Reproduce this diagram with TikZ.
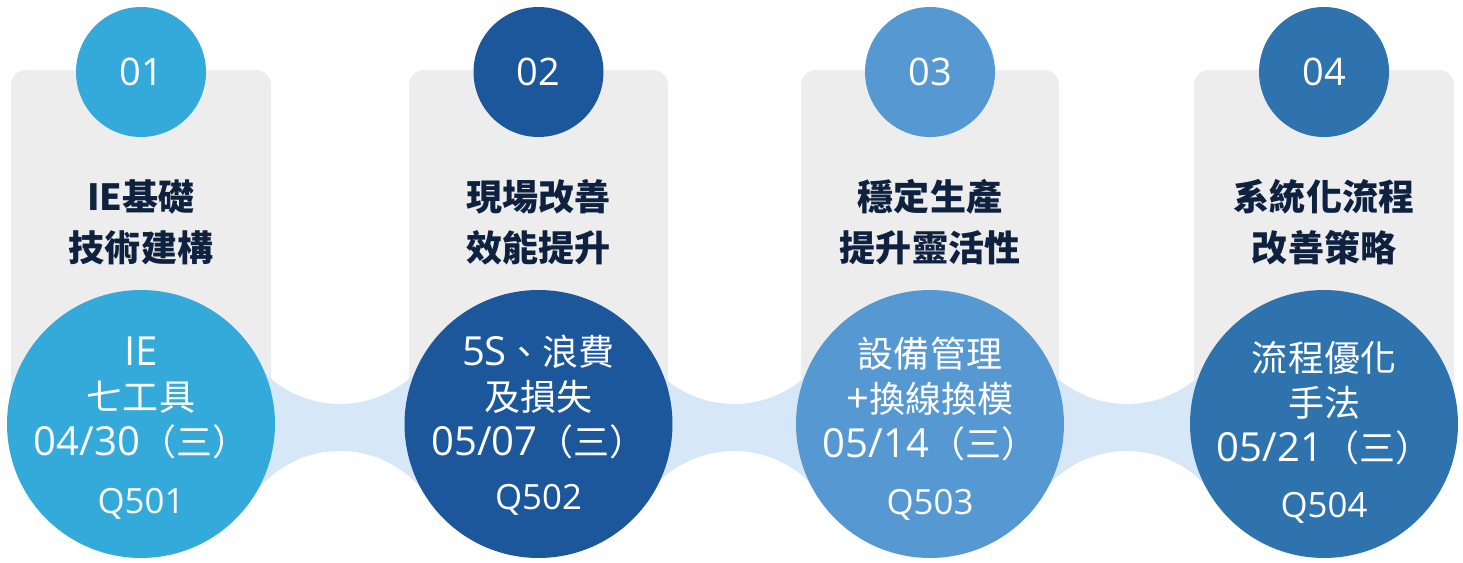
\documentclass[tikz,border=0pt]{standalone}
\usepackage{fontspec}
\setmainfont{Open Sans}
\newfontfamily\cjk{Noto Sans CJK TC}
\newcommand\lt[1]{{\rmfamily\fontsize{22.8}{25.5}\selectfont #1}}

\definecolor{cardgray}{HTML}{EDEDED}
\definecolor{bandblue}{HTML}{D6E8F8}
\definecolor{stepA}{HTML}{33AADA}
\definecolor{stepB}{HTML}{1C569B}
\definecolor{stepC}{HTML}{5598D2}
\definecolor{stepD}{HTML}{2E72AE}
\definecolor{titleink}{HTML}{0E2240}

\tikzset{
	card/.style={fill=cardgray, rounded corners=0.3cm},
	band/.style={fill=bandblue, even odd rule},
	numdot/.style={circle, minimum size=2.6cm, inner sep=0pt, text=white, font=\fontsize{21.6}{26}\selectfont},
	bigdot/.style={circle, minimum size=5.36cm, inner sep=0pt},
	heading/.style={align=center, text=titleink, font=\cjk\bfseries\fontsize{20.5}{29}\selectfont},
	inside/.style={align=center, text=white, font=\cjk\fontsize{20.5}{25.5}\selectfont},
	code/.style={text=white, font=\fontsize{19.8}{23}\selectfont},
}

\begin{document}
\begin{tikzpicture}[x=0.02cm, y=-0.02cm]
	\useasboundingbox (0,0) rectangle (1463,563);

	% cards
	\fill[card] (11,70) rectangle (271,424);
	\fill[card] (409,70) rectangle (668,424);
	\fill[card] (801,70) rectangle (1059,424);
	\fill[card] (1194,70) rectangle (1454,424);

	% bands between the circles
	\begin{scope}
		\clip (141,360) rectangle (538.5,490);
		\fill[band] (120,340) rectangle (560,510) (340,297) circle[radius=107] (340,558) circle[radius=107];
	\end{scope}
	\begin{scope}
		\clip (538.5,360) rectangle (930,490);
		\fill[band] (520,340) rectangle (950,510) (734,297) circle[radius=107] (734,558) circle[radius=107];
	\end{scope}
	\begin{scope}
		\clip (930,360) rectangle (1324,490);
		\fill[band] (910,340) rectangle (1340,510) (1127,297) circle[radius=107] (1127,558) circle[radius=107];
	\end{scope}

	% numbers
	\node[numdot, fill=stepA] (n1) at (141,72) {01};
	\node[numdot, fill=stepB] (n2) at (538.5,72) {02};
	\node[numdot, fill=stepC] (n3) at (930,72) {03};
	\node[numdot, fill=stepD] (n4) at (1324,72) {04};

	% headings
	\node[heading] (h1) at (141,222) {IE基礎\\技術建構};
	\node[heading] (h2) at (538.5,222) {現場改善\\效能提升};
	\node[heading] (h3) at (930,222) {穩定生產\\提升靈活性};
	\node[heading] (h4) at (1324,222) {系統化流程\\改善策略};

	% sessions
	\node[bigdot, fill=stepA] (s1) at (141,424) {};
	\node[bigdot, fill=stepB] (s2) at (538.5,424) {};
	\node[bigdot, fill=stepC] (s3) at (930,424) {};
	\node[bigdot, fill=stepD] (s4) at (1324,424) {};

	\node[inside] (t1) at (141,398) {\lt{IE}\\七工具\\\lt{04/30}（三）};
	\node[inside] (t2) at (538.5,397) {\lt{5S}、浪費\\及損失\\\lt{05/07}（三）};
	\node[inside] (t3) at (930,399) {設備管理\\\lt{+}換線換模\\\lt{05/14}（三）};
	\node[inside] (t4) at (1324,403) {流程優化\\手法\\\lt{05/21}（三）};

	\node[code] (q1) at (141,504) {Q501};
	\node[code] (q2) at (538.5,500) {Q502};
	\node[code] (q3) at (930,505) {Q503};
	\node[code] (q4) at (1324,508) {Q504};
\end{tikzpicture}
\end{document}
